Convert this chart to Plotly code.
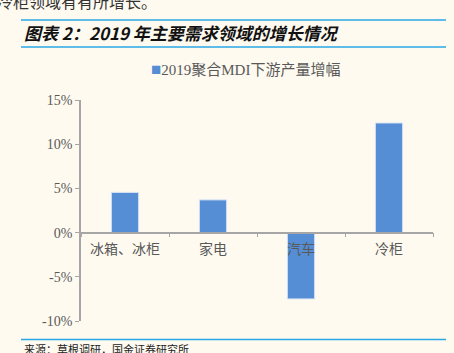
import plotly.graph_objects as go

categories = ["冰箱、冰柜", "家电", "汽车", "冷柜"]
values = [4.55, 3.7, -7.5, 12.4]
series_name = "2019聚合MDI下游产量增幅"
y_tickvals = [-10, -5, 0, 5, 10, 15]
y_ticktext = ["-10%", "-5%", "0%", "5%", "10%", "15%"]

W, H = 454, 353
L, R, T, B = 81, 21, 100, 32
PW, PH = W - L - R, H - T - B


def px(x):
    return (x - L) / PW


def py(y):
    return (H - B - y) / PH


BG = "#FEFAF0"
GRAY = "#595959"
AXIS = "#A6A6A6"
BAR = "#558ED5"
BLUE_LINE = "#29A8E6"
SERIF = "Liberation Serif, Times New Roman, Noto Sans CJK SC, serif"

fig = go.Figure()
fig.add_trace(go.Bar(
    x=categories, y=values, name=series_name,
    marker=dict(color=BAR, line=dict(color="#D6E4F5", width=1)),
    width=0.31, showlegend=False,
))

shapes = []
for yy in (20, 47, 339.5):
    shapes.append(dict(type="line", xref="paper", yref="paper",
                       x0=px(21), x1=px(446), y0=py(yy), y1=py(yy),
                       line=dict(color=BLUE_LINE, width=1.5)))

annotations = [
    dict(text="冷柜领域有有所增长。", xref="paper", yref="paper",
         x=px(-5), y=py(1), xanchor="left", yanchor="middle", showarrow=False,
         font=dict(family="Noto Sans CJK SC", size=16, color="#333333")),
    dict(text="<b><i>图表 2：2019 年主要需求领域的增长情况</i></b>", xref="paper", yref="paper",
         x=px(22), y=py(32), xanchor="left", yanchor="middle", showarrow=False,
         font=dict(family="Noto Sans CJK SC", size=17, color="#111111")),
    dict(text=f"<span style='color:{BAR};font-size:17px'>■</span>{series_name}", xref="paper", yref="paper",
         x=px(149), y=py(69), xanchor="left", yanchor="middle", showarrow=False,
         font=dict(family=SERIF, size=15, color=GRAY)),
    dict(text="来源：草根调研，国金证券研究所", xref="paper", yref="paper",
         x=px(22), y=py(349), xanchor="left", yanchor="middle", showarrow=False,
         font=dict(family="Noto Sans CJK SC", size=11, color="#222222")),
]

fig.update_layout(
    width=W, height=H,
    margin=dict(l=L, r=R, t=T, b=B),
    paper_bgcolor=BG, plot_bgcolor=BG,
    shapes=shapes, annotations=annotations,
    showlegend=False,
    xaxis=dict(anchor="free", position=0.4, showline=True, linecolor=AXIS, linewidth=1.5,
               ticks="outside", tickson="boundaries", ticklen=4, tickcolor=AXIS,
               ticklabelstandoff=4,
               tickfont=dict(family="Noto Sans CJK SC", size=14, color=GRAY),
               showgrid=False, zeroline=False, fixedrange=True),
    yaxis=dict(range=[-10, 15], tickvals=y_tickvals, ticktext=y_ticktext,
               showline=True, linecolor=AXIS, linewidth=1.5, ticks="outside", ticklen=4,
               tickcolor=AXIS, tickfont=dict(family=SERIF, size=14, color=GRAY),
               showgrid=False, zeroline=False),
)

fig.write_html("out.html")
